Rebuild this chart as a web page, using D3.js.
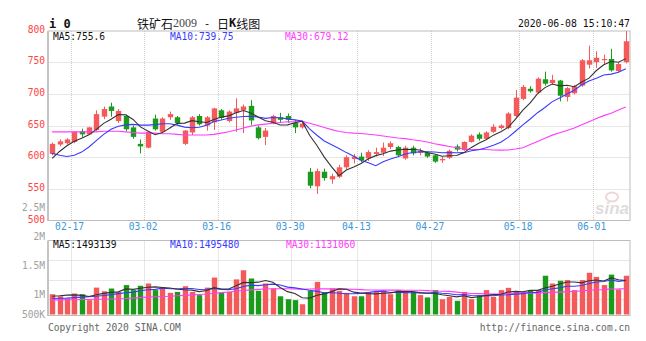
<!DOCTYPE html>
<html><head><meta charset="utf-8">
<script src="https://cdn.jsdelivr.net/npm/d3@7"></script>
<style>body{margin:0;background:#fff}svg{display:block}</style>
</head><body><svg id="c" width="646" height="341"></svg>
<script>
const dates = ["02-13","02-14","02-17","02-18","02-19","02-20","02-21","02-24","02-25","02-26","02-27","02-28",
"03-02","03-03","03-04","03-05","03-06","03-09","03-10","03-11","03-12","03-13","03-16","03-17","03-18","03-19","03-20","03-23","03-24","03-25","03-26","03-27","03-30","03-31",
"04-01","04-02","04-03","04-07","04-08","04-09","04-10","04-13","04-14","04-15","04-16","04-17","04-20","04-21","04-22","04-23","04-24","04-27","04-28","04-29","04-30",
"05-06","05-07","05-08","05-11","05-12","05-13","05-14","05-15","05-18","05-19","05-20","05-21","05-22","05-25","05-26","05-27","05-28","05-29",
"06-01","06-02","06-03","06-04","06-05","06-08"];
const open  = [605,620,622,624,641,636,643,664,680,657,665,647,621,615,661,640,663,663,621,639,665,650,655,674,657,670,674,681,647,632,654,663,665,654,647,577,554,577,565,569,584,597,601,598,605,607,616,616,598,615,607,607,603,595,599,617,611,624,636,629,640,646,646,665,692,708,702,723,717,721,695,701,713,746,750,754,755,736,750];
const high  = [623,628,630,641,645,648,674,680,686,676,667,650,628,641,667,663,672,665,643,665,668,665,678,676,674,693,683,690,650,646,667,670,669,659,655,583,582,582,574,588,603,605,607,611,615,623,625,618,618,618,614,609,604,601,612,620,625,636,639,641,652,652,671,706,714,712,726,735,730,722,711,714,755,776,767,762,771,750,799];
const low   = [603,617,620,622,632,635,641,660,664,654,641,629,606,614,642,638,659,651,619,635,650,642,643,659,655,640,638,651,628,619,652,654,654,638,645,551,542,563,558,567,581,590,592,594,601,602,613,600,596,603,603,599,591,591,597,609,610,623,626,628,638,644,644,663,690,702,700,713,714,688,688,699,711,740,741,746,735,734,748];
const close = [621,625,628,640,636,647,668,676,673,673,644,632,617,640,644,661,668,654,642,663,652,663,677,662,672,677,680,658,630,642,665,659,659,647,653,555,578,567,570,584,600,601,595,608,608,615,622,603,615,606,610,601,593,597,610,612,624,634,629,639,648,650,669,694,711,704,724,716,722,697,709,712,753,753,757,755,737,747,783];
const ma5  = [598,609,618,625,630.0,635.2,643.8,653.4,660.0,667.4,666.8,659.6,647.8,641.2,635.4,638.8,646.0,653.4,653.8,657.6,655.8,654.8,659.4,663.4,665.2,670.2,673.6,669.8,663.4,657.4,655.0,650.8,651.0,654.4,656.6,634.6,618.4,600.0,584.6,570.8,579.8,584.4,590.0,597.6,602.4,605.4,609.6,611.2,612.6,612.2,611.2,607.0,605.0,601.4,602.2,602.6,607.2,615.4,621.8,627.6,634.8,640.0,647.0,660.0,674.4,685.6,700.4,709.8,715.4,712.6,713.6,711.2,718.6,724.8,736.8,746.0,751.0,749.8,755.6];
const ma10 = [606,603,601,603,608,616,626,636,644,648.7,651.0,651.7,650.6,650.6,651.4,652.8,652.8,650.6,647.5,646.5,647.3,650.4,656.4,658.6,661.4,663.0,664.2,664.6,663.4,661.3,662.6,662.2,660.4,658.9,657.0,644.8,634.6,625.5,619.5,613.7,607.2,601.4,595.0,591.1,586.6,592.6,597.0,600.6,605.1,607.3,608.3,608.3,608.1,607.0,607.2,606.9,607.1,610.2,611.6,614.9,618.7,623.6,631.2,640.9,651.0,660.2,670.2,678.4,687.7,693.5,699.6,705.8,714.2,720.1,724.7,729.8,731.1,734.2,739.75];
const ma30 = [640,640,640,640,640,640,640,641,641,641,640,639,638,638,638,637,637,636,635,635,635,635,636,638,640,643,646,649,651,652.2,653.6,654.8,655.8,656.0,656.6,653.5,650.5,646.9,643.5,640.5,639.0,638.0,637.3,636.2,635.0,633.5,631.9,630.2,629.3,627.4,626.0,624.0,621.2,619.0,616.9,614.8,612.9,612.1,612.1,612.0,611.4,611.1,611.4,613.0,614.9,619.9,624.8,629.7,634.8,638.6,642.2,645.9,651.2,656.0,661.0,665.6,669.5,674.3,679.12];
const volume = [890000,800000,700000,920000,890000,630000,1180000,1020000,1140000,990000,1290000,1070000,1260000,1360000,1070000,1170000,950000,990000,1240000,990000,850000,1180000,1620000,950000,990000,1540000,1940000,1580000,1040000,1360000,1140000,800000,670000,630000,450000,1040000,1430000,970000,1140000,1040000,950000,800000,800000,990000,990000,1070000,890000,1070000,990000,990000,850000,750000,1070000,670000,770000,600000,990000,670000,850000,1070000,770000,1070000,1170000,990000,990000,1070000,1070000,1700000,1360000,1480000,1510000,1070000,1510000,1830000,1650000,1290000,1750000,1100000,1700000];
const volMa5 = [800000,820000,850000,860000,840000,788000,864000,928000,972000,992000,1124000,1102000,1150000,1194000,1210000,1186000,1162000,1108000,1084000,1068000,1004000,1050000,1176000,1118000,1118000,1256000,1408000,1400000,1418000,1492000,1412000,1184000,1002000,920000,738000,718000,844000,904000,1006000,1124000,1106000,980000,946000,916000,906000,930000,948000,1002000,1002000,1002000,958000,930000,930000,866000,822000,772000,820000,740000,776000,836000,870000,886000,986000,1014000,998000,1058000,1058000,1164000,1238000,1336000,1424000,1424000,1386000,1480000,1514000,1470000,1606000,1524000,1493139];
const volMa10 = [700000,710000,720000,740000,760000,780000,800000,830000,870000,916000,956000,983000,1039000,1083000,1101000,1155000,1132000,1129000,1139000,1139000,1095000,1106000,1142000,1101000,1093000,1130000,1229000,1288000,1268000,1305000,1334000,1296000,1201000,1169000,1115000,1065000,1014000,953000,963000,931000,912000,912000,925000,961000,1015000,1018000,964000,974000,959000,954000,944000,939000,966000,934000,912000,865000,875000,835000,821000,829000,821000,853000,863000,895000,917000,964000,972000,1075000,1126000,1167000,1241000,1241000,1275000,1359000,1425000,1447000,1515000,1455000,1495480];
const volMa30 = [640000,640000,650000,650000,660000,660000,670000,670000,680000,690000,700000,720000,740000,760000,780000,790000,800000,820000,840000,860000,880000,900000,930000,960000,990000,1020000,1050000,1080000,1100000,1120000,1128000,1128000,1127000,1118000,1103000,1117000,1125000,1123000,1123000,1125000,1114000,1105000,1089000,1077000,1074000,1071000,1069000,1072000,1063000,1063000,1063000,1049000,1031000,1021000,1014000,983000,951000,921000,914000,905000,892000,901000,918000,930000,948000,949000,937000,961000,969000,983000,1002000,1011000,1035000,1063000,1085000,1092000,1121000,1122000,1131060];
const dateTicks = ["02-17","03-02","03-16","03-30","04-13","04-27","05-18","06-01"];
const priceTicks = [800,750,700,650,600,550,500];
const priceGrid = [750,700,650,600,550];
const volTickLabels = ["2M","1.5M","1M","500K"];

const mono = '"DejaVu Sans Mono","Liberation Mono",monospace';
const cjk = '"Noto Sans CJK SC","Noto Sans",sans-serif';
const RED = "#f55a5a", GREEN = "#1b9b1b";
const C5 = "#333333", C10 = "#3a3aff", C30 = "#ff3cff";
const svg = d3.select("#c");
const L = 48.5, R = 630, PT = 31, PB = 220.5, VT = 240.5, VB = 315.5;

const x = d3.scaleBand().domain(dates).range([L, R - 0.5]).padding(0);
const step = x.step();
const cx = d => x(d) + step / 2;
const y = d3.scaleLinear().domain([500, 800]).range([220.5, 30.5]);
const vy = d3.scaleLinear().domain([0, 3.25e6]).range([314.5, 240.4]);

const grid = svg.append("g").attr("stroke", "#cfcfcf").attr("stroke-dasharray", "1,1").attr("stroke-width", 1);
priceGrid.forEach(v => grid.append("line").attr("x1", L).attr("x2", R).attr("y1", Math.round(y(v)) + 0.5).attr("y2", Math.round(y(v)) + 0.5));
[1, 2, 3].forEach(k => { const yy = Math.round(VT + k * (VB + 3 - VT) / 4) + 0.5;
  grid.append("line").attr("x1", L).attr("x2", R).attr("y1", yy).attr("y2", yy); });
dateTicks.forEach(d => { const gx = Math.round(x(d) + step) + 0.5;
  grid.append("line").attr("x1", gx).attr("x2", gx).attr("y1", PT).attr("y2", PB);
  grid.append("line").attr("x1", gx).attr("x2", gx).attr("y1", VT).attr("y2", VB); });

// frames
[[PT, PB], [VT, VB]].forEach(([t, b]) => {
  svg.append("rect").attr("x", L).attr("y", t).attr("width", R - L).attr("height", b - t)
    .attr("fill", "none").attr("stroke", "#bdbdbd").attr("stroke-width", 1);
  svg.append("line").attr("x1", L - 0.5).attr("x2", L - 0.5).attr("y1", t).attr("y2", b + 0.5)
    .attr("stroke", "#c4c4c4").attr("stroke-width", 2);
});

// watermark
const wm = svg.append("g").attr("opacity", 0.55);
wm.append("ellipse").attr("cx", 612).attr("cy", 197).attr("rx", 6).attr("ry", 4.5).attr("fill", "none").attr("stroke", "#e4b4b4").attr("stroke-width", 2);
wm.append("text").attr("x", 629).attr("y", 214).attr("text-anchor", "end").attr("font-family", "Liberation Sans, Arial").attr("font-style", "italic").attr("font-weight", "bold").attr("font-size", 17).attr("fill", "#c8c0c0").text("sina");

// candles
const cg = svg.append("g");
dates.forEach((d, i) => {
  const col = close[i] >= open[i] ? RED : GREEN;
  const xc = Math.round(cx(d)) + 0.5;
  cg.append("line").attr("x1", xc).attr("x2", xc).attr("y1", y(high[i])).attr("y2", y(low[i])).attr("stroke", col).attr("stroke-width", 1);
  const top = y(Math.max(open[i], close[i])), bot = y(Math.min(open[i], close[i]));
  cg.append("rect").attr("x", xc - 2.7).attr("width", 5.4).attr("y", top).attr("height", Math.max(1.2, bot - top)).attr("fill", col);
});

// volume bars
const vg = svg.append("g");
dates.forEach((d, i) => {
  const col = close[i] >= open[i] ? RED : GREEN;
  const xc = Math.round(cx(d)) + 0.5;
  vg.append("rect").attr("x", xc - 2.7).attr("width", 5.4).attr("y", vy(volume[i])).attr("height", vy(0) - vy(volume[i])).attr("fill", col);
});

// MA lines
const lineP = d3.line().x((v, i) => cx(dates[i])).y(v => y(v));
const lineV = d3.line().x((v, i) => cx(dates[i])).y(v => vy(v));
[[ma30, C30], [ma10, C10], [ma5, C5]].forEach(([a, c]) => svg.append("path").attr("d", lineP(a)).attr("fill", "none").attr("stroke", c).attr("stroke-width", 1.1));
[[volMa30, C30], [volMa10, C10], [volMa5, C5]].forEach(([a, c]) => svg.append("path").attr("d", lineV(a)).attr("fill", "none").attr("stroke", c).attr("stroke-width", 1.1));

// text helpers
function txt(xp, yp, s, col, anchor, size, extra) {
  const t = svg.append("text").attr("x", xp).attr("y", yp).attr("fill", col).attr("text-anchor", anchor || "start")
    .attr("font-family", mono).attr("font-size", size || 9.6).attr("dominant-baseline", "central").text(s);
  if (extra) extra(t);
  return t;
}
// price axis labels
priceTicks.forEach(v => txt(45, y(v) - 1.5, String(v), "#ff4545", "end"));
txt(45, 207.7, "2.5M", "#a0a0a0", "end");
// vol labels
const volLabelY = [236, 265.7, 294.7, 314];
volTickLabels.forEach((s, k) => txt(45, volLabelY[k], s, "#a0a0a0", "end"));
// date labels
dateTicks.forEach(d => txt(x(d) + step - 1, 226.5, d, "#3b97d8", "middle"));

// MA legends
txt(53, 36.5, "MA5:" + ma5[ma5.length - 1].toFixed(1), "#111");
txt(170, 36.5, "MA10:" + ma10[ma10.length - 1].toFixed(2), C10);
txt(285, 36.5, "MA30:" + ma30[ma30.length - 1].toFixed(2), C30);
txt(53, 244.5, "MA5:" + volMa5[volMa5.length - 1], "#111");
txt(170, 244.5, "MA10:" + volMa10[volMa10.length - 1], C10);
txt(286, 244.5, "MA30:" + volMa30[volMa30.length - 1], C30);

// header
txt(49, 23.5, "i 0", "#111", "start", 12, t => t.attr("font-weight", "bold"));
const title = svg.append("text").attr("x", 137).attr("y", 23).attr("dominant-baseline", "central").attr("fill", "#111").attr("font-size", 12);
title.append("tspan").attr("font-family", cjk).text("铁矿石");
title.append("tspan").attr("font-family", '"Liberation Serif",serif').attr("fill", "#444").text("2009");
title.append("tspan").attr("font-family", mono).attr("font-size", 11).text(" - ");
title.append("tspan").attr("font-family", cjk).text("日");
title.append("tspan").attr("font-family", mono).attr("font-weight", "bold").text("K");
title.append("tspan").attr("font-family", cjk).text("线图");
txt(630, 23.5, "2020-06-08 15:10:47", "#111", "end", 9.8);

// footer
txt(48, 327, "Copyright 2020 SINA.COM", "#666", "start", 9.6);
txt(630, 327, "http://finance.sina.com.cn", "#666", "end", 9.6);
</script></body></html>
